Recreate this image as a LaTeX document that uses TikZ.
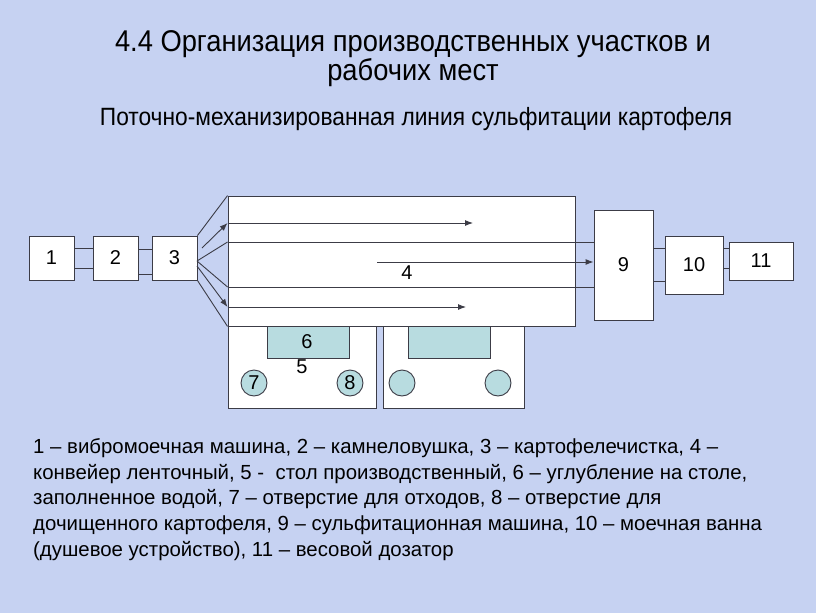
\documentclass[tikz,border=0pt]{standalone}
\usepackage{fontspec}
\setmainfont{Liberation Sans}
\newfontfamily\narrowfont[FakeStretch=0.91]{Liberation Sans}
\usetikzlibrary{arrows.meta}
\definecolor{bgc}{RGB}{198,210,242}
\definecolor{tealc}{RGB}{184,220,224}
\definecolor{linec}{RGB}{60,60,70}
\tikzset{
  x=1pt, y=-1pt,
  boxn/.style={draw=linec, fill=white, line width=0.9pt, inner sep=0pt, font=\fontsize{20}{20}\selectfont},
  ins/.style={draw=linec, fill=tealc, line width=0.9pt, inner sep=0pt},
  hole/.style={draw=linec, fill=tealc, line width=0.9pt, circle, minimum size=26pt, inner sep=0pt, font=\fontsize{20}{20}\selectfont},
  ln/.style={draw=linec, line width=0.9pt},
  arr/.style={ln, -{Latex[length=8pt,width=6pt]}},
  lbl/.style={inner sep=0pt, font=\fontsize{20}{20}\selectfont},
  leg/.style={inner sep=0pt, anchor=base west, font=\fontsize{20.4}{24}\selectfont}
}
\begin{document}
\begin{tikzpicture}
\fill[bgc] (0,0) rectangle (816,613);
\useasboundingbox (0,0) rectangle (816,613);
% titles
\node[inner sep=0pt, anchor=base, font=\narrowfont\fontsize{30}{30}\selectfont] (t1) at (413,51) {4.4 Организация производственных участков и};
\node[inner sep=0pt, anchor=base, font=\narrowfont\fontsize{30}{30}\selectfont] (t2) at (413,80) {рабочих мест};
\node[inner sep=0pt, anchor=base, font=\narrowfont\fontsize{25}{25}\selectfont] (t3) at (416,125) {Поточно-механизированная линия сульфитации картофеля};
% tables
\node[boxn, minimum width=148pt, minimum height=98pt] (tabL) at (302,359) {};
\node[boxn, minimum width=141pt, minimum height=98pt] (tabR) at (453.5,359) {};
\node[ins, minimum width=82pt, minimum height=38pt] (insL) at (308,339) {};
\node[ins, minimum width=82pt, minimum height=38pt] (insR) at (449,339) {};
\node[hole] (h7) at (254,383) {7};
\node[hole] (h8) at (350,383) {8};
\node[hole] (h7b) at (402,383) {};
\node[hole] (h8b) at (498,383) {};
\node[lbl] (l6) at (307,342) {6};
\node[lbl] (l5) at (302,367) {5};
% conveyor
\node[boxn, minimum width=347pt, minimum height=130pt] (conv) at (401.5,261) {};
\node[lbl] (l4) at (407,273) {4};
% boxes
\node[boxn, minimum width=45pt, minimum height=44pt] (b1) at (51.5,258) {1};
\node[boxn, minimum width=45pt, minimum height=44pt] (b2) at (115.5,258) {2};
\node[boxn, minimum width=45pt, minimum height=44pt] (b3) at (174.5,258) {3};
\node[boxn, minimum width=59pt, minimum height=110pt] (b9) at (623.5,265) {9};
\node[boxn, minimum width=58pt, minimum height=58pt] (b10) at (694,265) {10};
\node[boxn, minimum width=64pt, minimum height=38pt] (b11) at (761,261) {11};
% strips between boxes
\draw[ln] (b1.east |- 0,248) -- (b2.west |- 0,248);
\draw[ln] (b1.east |- 0,268) -- (b2.west |- 0,268);
\draw[ln] (b2.east |- 0,249) -- (b3.west |- 0,249);
\draw[ln] (b2.east |- 0,274) -- (b3.west |- 0,274);
\draw[ln] (b9.east |- 0,248) -- (b10.west |- 0,248);
\draw[ln] (b9.east |- 0,281) -- (b10.west |- 0,281);
\draw[ln] (b10.east |- 0,248) -- (b11.west |- 0,248);
\draw[ln] (b10.east |- 0,268) -- (b11.west |- 0,268);
% fan from 3 to conveyor
\coordinate (f1) at (197,261);
\coordinate (f2) at (202,248);
\coordinate (f3) at (197,266);
\draw[ln] (b3.north east) -- (conv.north west);
\draw[ln] (f1) -- (conv.west |- 0,242);
\draw[ln] (f1) -- (conv.west |- 0,287);
\draw[ln] (b3.south east) -- (conv.south west);
\draw[arr] (f2) -- (conv.west |- 0,223);
\draw[arr] (f3) -- (conv.west |- 0,307);
% conveyor lanes
\draw[ln] (conv.west |- 0,242) -- (b9.west |- 0,242);
\draw[ln] (conv.west |- 0,287) -- (b9.west |- 0,287);
\coordinate (a1e) at (473,223);
\coordinate (a3e) at (466,307);
\coordinate (a2s) at (377,262);
\draw[arr] (conv.west |- 0,223) -- (a1e);
\draw[arr] (conv.west |- 0,307) -- (a3e);
\draw[arr] (a2s) -- (b9.west |- 0,262);
% legend
\node[leg] (g1) at (33,453) {1 – вибромоечная машина, 2 – камнеловушка, 3 – картофелечистка, 4 –};
\node[leg] (g2) at (33,479) {конвейер ленточный, 5 -\ \ стол производственный, 6 – углубление на столе,};
\node[leg] (g3) at (33,504.5) {заполненное водой, 7 – отверстие для отходов, 8 – отверстие для};
\node[leg] (g4) at (33,530) {дочищенного картофеля, 9 – сульфитационная машина, 10 – моечная ванна};
\node[leg] (g5) at (33,556) {(душевое устройство), 11 – весовой дозатор};
\end{tikzpicture}
\end{document}
